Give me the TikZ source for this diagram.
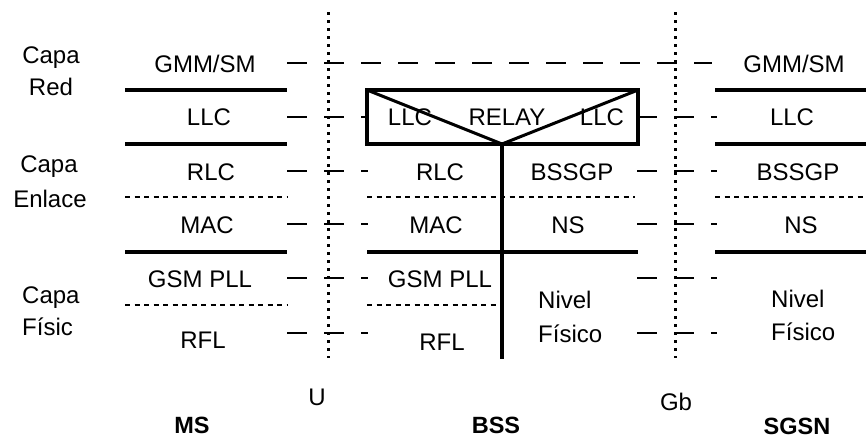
\documentclass[tikz,border=0pt]{standalone}
\usepackage{fontspec}
\setmainfont{Liberation Sans}
\begin{document}
\begin{tikzpicture}[x=1pt,y=-1pt,
  txt/.style={font=\fontsize{24}{28}\selectfont, inner sep=0pt, anchor=base},
  txtl/.style={txt, anchor=base west},
  bold/.style={txt, font=\fontsize{23.5}{28}\selectfont\bfseries},
  thickbar/.style={line width=4.5pt},
  diag/.style={line width=3pt},
  dotsep/.style={line width=2pt, dash pattern=on 5pt off 4.5pt},
  iface/.style={line width=3pt, dash pattern=on 3pt off 5pt},
  peer/.style={line width=2.5pt, dash pattern=on 20pt off 17pt}]
\useasboundingbox (0,0) rectangle (866,439);

% layer labels
\node[txt] (c1) at (51,63) {Capa};
\node[txt] (c1b) at (51,95) {Red};
\node[txt] (c2) at (49,172) {Capa};
\node[txt] (c2b) at (50,207) {Enlace};
\node[txtl] (c3) at (22,303) {Capa};
\node[txtl] (c3b) at (22,335) {Físic};

% interfaces
\draw[iface] (328,12) coordinate (u1) -- (328,358) coordinate (u2);
\draw[iface] (675,12) coordinate (g1) -- (675,358) coordinate (g2);
\node[txt] (U) at (317,405) {U};
\node[txt] (Gb) at (676,410) {Gb};

% MS column
\draw[thickbar] (125,90) -- (287,90);
\draw[thickbar] (125,144) -- (287,144);
\draw[dotsep] (125,197) -- (287,197);
\draw[thickbar] (125,252) -- (287,252);
\draw[dotsep] (125,305) -- (287,305);
\node[txt] (ms1) at (205,72) {GMM/SM};
\node[txt] (ms2) at (209,125) {LLC};
\node[txt] (ms3) at (211,180) {RLC};
\node[txt] (ms4) at (207,233) {MAC};
\node[txt] (ms5) at (200,287) {GSM PLL};
\node[txt] (ms6) at (203,348) {RFL};
\node[bold] (MS) at (192,433) {MS};

% BSS column
\draw[thickbar, line join=miter] (367,90) rectangle (638,144);
\draw[diag] (367,90) -- (502,144) -- (638,90);
\draw[thickbar] (502,144) -- (502,359);
\draw[dotsep] (367,197) -- (635,197);
\draw[thickbar] (367,252) -- (638,252);
\draw[dotsep] (367,305) -- (500,305);
\node[txt] (b1) at (410,125) {LLC};
\node[txt] (b2) at (507,125) {RELAY};
\node[txt] (b3) at (602,125) {LLC};
\node[txt] (b4) at (440,180) {RLC};
\node[txt] (b5) at (572,180) {BSSGP};
\node[txt] (b6) at (436,233) {MAC};
\node[txt] (b7) at (568,233) {NS};
\node[txt] (b8) at (440,287) {GSM PLL};
\node[txt] (b9) at (442,350) {RFL};
\node[txtl] (b10) at (538,308) {Nivel};
\node[txtl] (b11) at (538,342) {Físico};
\node[bold] (BSS) at (496,433) {BSS};

% SGSN column
\draw[thickbar] (715,90) -- (866,90);
\draw[thickbar] (715,144) -- (866,144);
\draw[dotsep] (715,197) -- (866,197);
\draw[thickbar] (715,252) -- (866,252);
\node[txt] (s1) at (794,72) {GMM/SM};
\node[txt] (s2) at (792,125) {LLC};
\node[txt] (s3) at (798,180) {BSSGP};
\node[txt] (s4) at (801,233) {NS};
\node[txtl] (s5) at (771,307) {Nivel};
\node[txtl] (s6) at (771,340) {Físico};
\node[bold] (SGSN) at (797,434) {SGSN};

% peer-to-peer dashes
\draw[peer] (287,63) -- (712,63);
\foreach \y in {117,171,224,278,333} {
  \draw[peer] (287,\y) -- (368,\y);
  \draw[peer] (637,\y) -- (717,\y);
}
\end{tikzpicture}
\end{document}
